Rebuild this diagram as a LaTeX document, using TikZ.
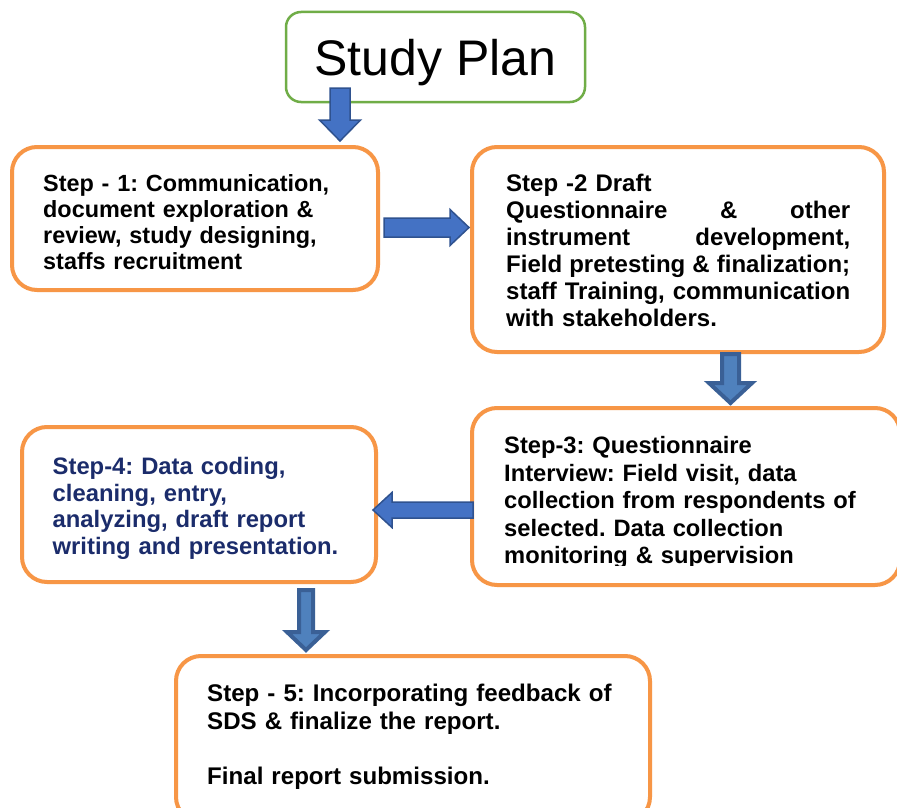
\documentclass[tikz,border=0pt]{standalone}
\usepackage{fontspec}
\setmainfont{Liberation Sans}
\usetikzlibrary{calc}
\frenchspacing

\definecolor{boxorange}{HTML}{F79646}
\definecolor{boxgreen}{HTML}{70AD47}
\definecolor{arrowfill}{HTML}{4472C4}
\definecolor{arrowline}{HTML}{2F528F}
\definecolor{arrowfillB}{HTML}{4F81BD}
\definecolor{arrowlineB}{HTML}{3A6096}
\definecolor{stepnavy}{HTML}{1B2C6B}

% a full-width line with its words spread apart
\newcommand\spreadline[1]{\leavevmode\hbox to\linewidth{#1}}

\tikzset{
  obox/.style={draw=boxorange, line width=4pt, rounded corners=25pt, fill=white, inner sep=0pt},
  gbox/.style={draw=boxgreen, line width=2.5pt, rounded corners=15pt, fill=white, inner sep=0pt},
  steptext/.style={anchor=base west, inner sep=0pt, align=left,
    font=\fontsize{24}{27}\selectfont\bfseries\frenchspacing},
  % block arrow from start to target: half shaft width, half head width, head length
  blockarrow/.style n args={3}{to path={
    ($(\tikztotarget)!#3!(\tikztostart)$) coordinate (hb)
    ($(\tikztostart)!#1!90:(\tikztotarget)$) -- ($(hb)!#1!90:(\tikztotarget)$)
    -- ($(hb)!#2!90:(\tikztotarget)$) -- (\tikztotarget)
    -- ($(hb)!#2!-90:(\tikztotarget)$) -- ($(hb)!#1!-90:(\tikztotarget)$)
    -- ($(\tikztostart)!#1!-90:(\tikztotarget)$) -- cycle}},
  flatarrow/.style={fill=arrowfill, draw=arrowline, line width=1.5pt, line join=miter},
  deeparrow/.style={fill=arrowfillB, draw=arrowlineB, line width=4pt, line join=miter}
}

\begin{document}
\begin{tikzpicture}[x=1pt, y=-1pt]
\useasboundingbox (0,0) rectangle (897,808);
\clip (0,0) rectangle (897,808);
\fill[white] (0,0) rectangle (897,808);

% boxes
\node[gbox, minimum width=299pt, minimum height=90pt] (sp) at (435.5,57) {};
\node[obox, minimum width=366pt, minimum height=143pt] (s1) at (195,218.5) {};
\node[obox, minimum width=412pt, minimum height=205pt] (s2) at (678,249.5) {};
\node[obox, minimum width=428pt, minimum height=177pt] (s3) at (686,496.5) {};
\node[obox, minimum width=354pt, minimum height=155pt] (s4) at (199,504.5) {};
\node[obox, minimum width=474pt, minimum height=166pt] (s5) at (413,739) {};

% texts
\node[anchor=base, inner sep=0pt, font=\fontsize{50}{60}\selectfont] (spt) at (435.5,75) {Study Plan};

\node[steptext, text width=330pt, font=\fontsize{23.4}{26}\selectfont\bfseries] (t1) at (43,191.5)
  {Step - 1: Communication,\\ document exploration \&\\ review, study designing,\\ staffs recruitment};

\node[steptext, text width=344pt] (t2) at (506,191.5)
  {Step -2 Draft\\
   \spreadline{Questionnaire\hfill\&\hfill other}\\
   \spreadline{instrument\hfill development,}\\
   \spreadline{Field\hfill pretesting\hfill\&\hfill finalization;}\\
   \spreadline{staff\hfill Training,\hfill communication}\\
   with stakeholders.};

\begin{scope}
  \clip (0,0) rectangle (897,565.5);
  \node[steptext, text width=380pt, font=\fontsize{23.7}{27.5}\selectfont\bfseries] (t3) at (504,453.5)
    {Step-3: Questionnaire\\ Interview: Field visit, data\\ collection from respondents of\\ selected. Data collection\\ monitoring \& supervision};
\end{scope}

\node[steptext, text width=320pt, text=stepnavy, font=\fontsize{23.8}{26.7}\selectfont\bfseries] (t4) at (52.5,474.5)
  {Step-4: Data coding,\\ cleaning, entry,\\ analyzing, draft report\\ writing and presentation.};

\node[steptext, text width=440pt, font=\fontsize{24.1}{27.7}\selectfont\bfseries] (t5) at (207,701.5)
  {Step - 5: Incorporating feedback of\\ SDS \& finalize the report.\\[27.7pt] Final report submission.};

% arrow end points
\coordinate (a1s) at (340,88);   \coordinate (a1e) at (340,141);
\coordinate (a2s) at (384,227.5); \coordinate (a2e) at (469,227.5);
\coordinate (a3s) at (730.5,354); \coordinate (a3e) at (730.5,403);
\coordinate (a4s) at (473,510);  \coordinate (a4e) at (373,510);
\coordinate (a5s) at (306,590);  \coordinate (a5e) at (306,650);

% block arrows between the boxes
\draw[flatarrow] (a1s) to[blockarrow={10pt}{20.5pt}{21pt}] (a1e);
\draw[flatarrow] (a2s) to[blockarrow={9.5pt}{18pt}{19pt}] (a2e);
\draw[deeparrow] (a3s) to[blockarrow={8.5pt}{21.5pt}{20pt}] (a3e);
\draw[flatarrow] (a4s) to[blockarrow={8pt}{17.5pt}{19pt}] (a4e);
\draw[deeparrow] (a5s) to[blockarrow={7pt}{19pt}{18pt}] (a5e);
\end{tikzpicture}
\end{document}
